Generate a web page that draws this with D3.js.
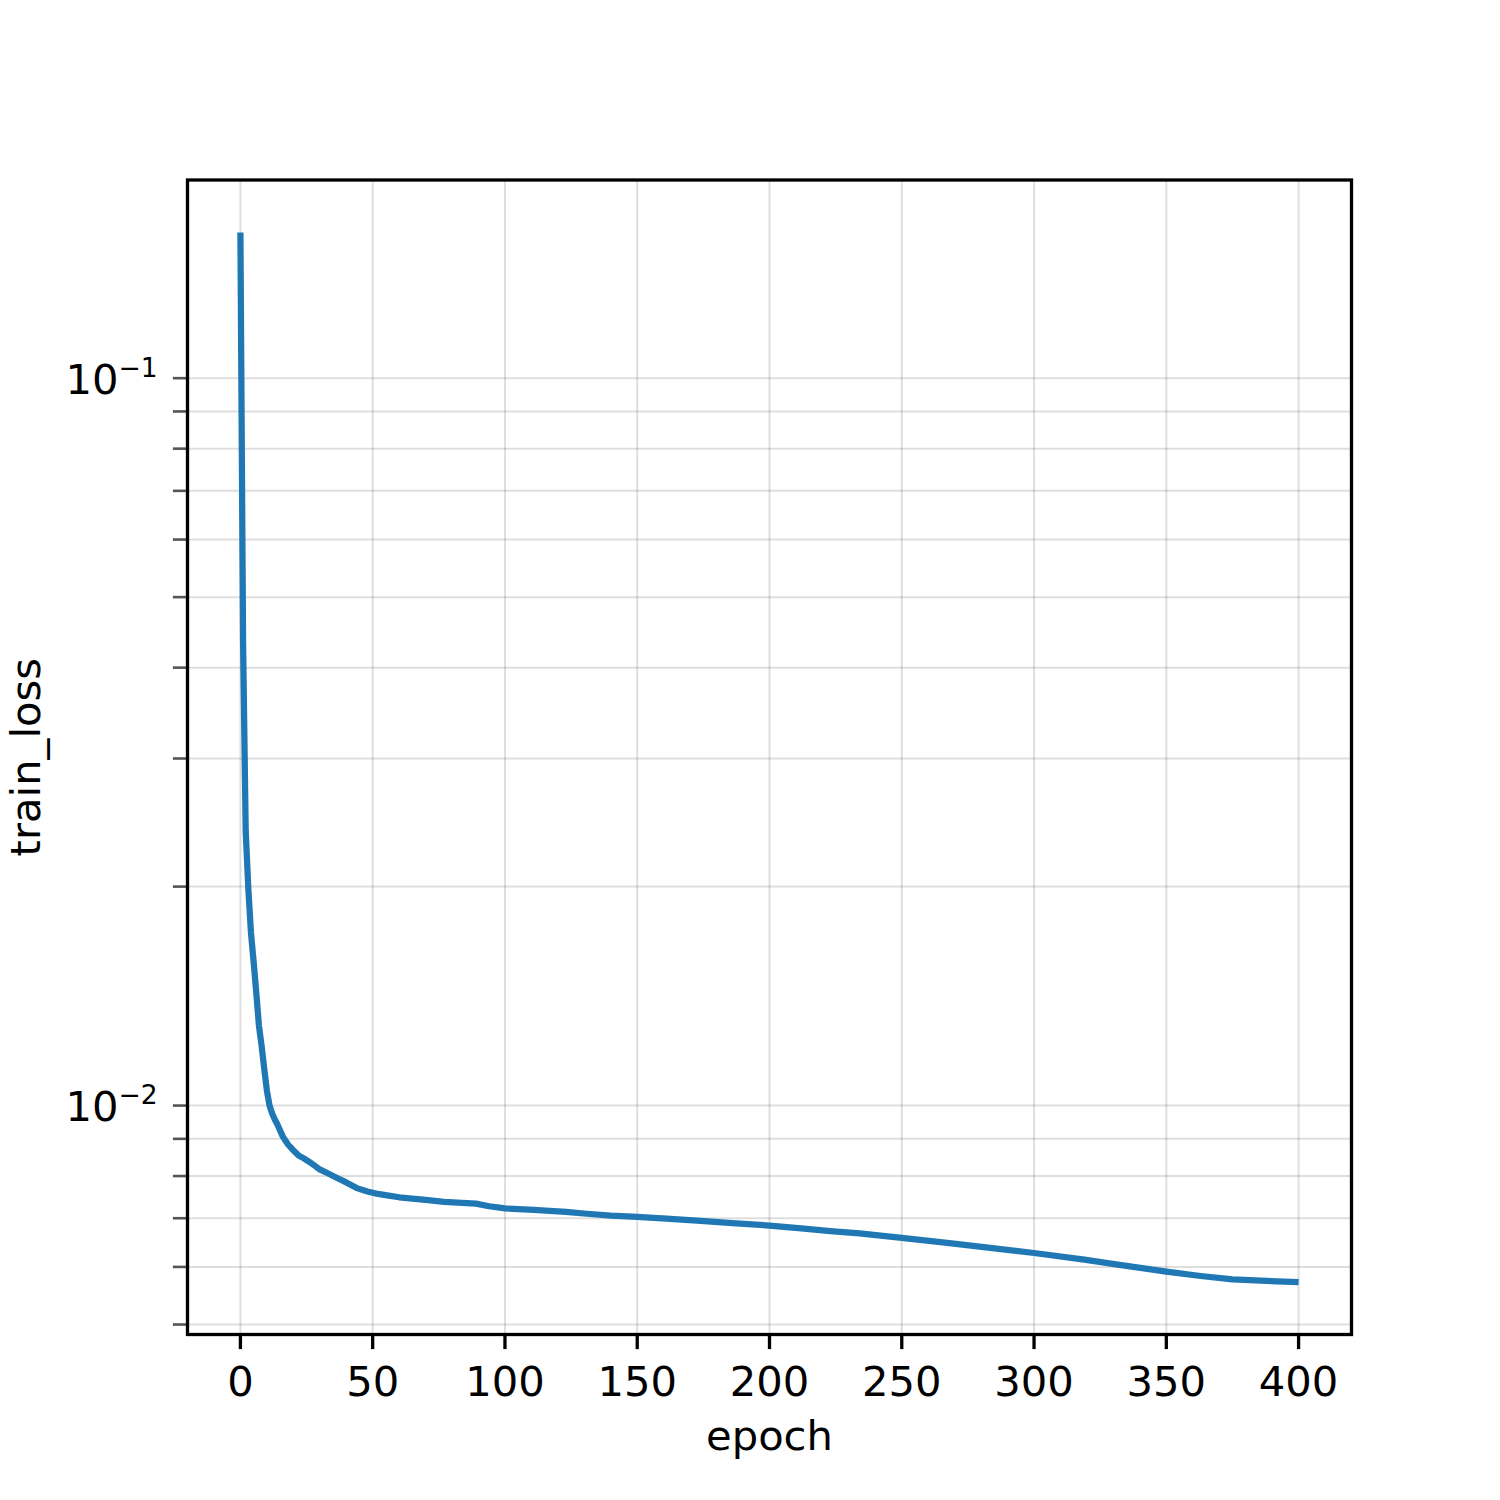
<!DOCTYPE html>
<html>
<head>
<meta charset="utf-8">
<script src="https://cdn.jsdelivr.net/npm/d3@7"></script>
<style>
  html, body { margin: 0; padding: 0; background: #fff; }
  svg { display: block; }
  text { font-family: "DejaVu Sans", sans-serif; fill: #000; }
</style>
</head>
<body>
<svg id="chart" width="1500" height="1500"></svg>
<script>
// ---- data ----
const epochs = [0, 1, 2, 3, 4, 5, 6, 7, 8, 9, 10, 11, 12, 13, 14, 15, 16, 17, 18, 19, 20,
  22, 24, 26, 28, 30, 33, 36, 40, 44, 48, 52, 56, 60, 70, 77, 89, 94, 100, 111, 123, 131,
  140, 150, 161, 174, 186, 200, 212, 223, 234, 250, 268, 281, 300, 319, 331, 350, 363,
  375, 388, 400];
const trainLoss = [0.1586, 0.0435, 0.02383, 0.01985, 0.01727, 0.01576, 0.01429, 0.01288,
  0.01209, 0.01124, 0.01049, 0.0100, 0.00975, 0.00957, 0.00942, 0.00924, 0.00907, 0.00895,
  0.00884, 0.00876, 0.00868, 0.00854, 0.00846, 0.00837, 0.00827, 0.00817, 0.00807, 0.00797,
  0.00784, 0.00770, 0.00762, 0.00756, 0.00752, 0.00748, 0.00742, 0.00737, 0.00733, 0.00727,
  0.00722, 0.00719, 0.00714, 0.00710, 0.00706, 0.00703, 0.00699, 0.00694, 0.00689, 0.00684,
  0.00678, 0.00672, 0.00667, 0.00658, 0.00647, 0.00639, 0.00627, 0.00614, 0.00605, 0.00591,
  0.00583, 0.00577, 0.00574, 0.00572];
const xTicks = [0, 50, 100, 150, 200, 250, 300, 350, 400];
const yMajorTicks = [0.01, 0.1];
const yMajorExp = ["\u22122", "\u22121"];
const yMinorTicks = [0.005, 0.006, 0.007, 0.008, 0.009, 0.02, 0.03, 0.04, 0.05, 0.06, 0.07, 0.08, 0.09];
const xLabel = "epoch";
const yLabel = "train_loss";

// ---- layout ----
const L = 187.5, R = 1351.5, T = 180, B = 1334.5;
const FS = 41.67;
const svg = d3.select("#chart");

// x domain with 5% margins (matplotlib style)
const xMin = d3.min(epochs), xMax = d3.max(epochs);
const xPad = (xMax - xMin) * 0.05;
const x = d3.scaleLinear().domain([xMin - xPad, xMax + xPad]).range([L, R]);

// y log domain with 5% margins in log space
const lmin = Math.log10(d3.min(trainLoss)), lmax = Math.log10(d3.max(trainLoss));
const lpad = (lmax - lmin) * 0.05;
const y = d3.scaleLog().domain([Math.pow(10, lmin - lpad), Math.pow(10, lmax + lpad)]).range([B, T]);
const [yd0, yd1] = y.domain();
const inY = v => v >= yd0 && v <= yd1;

// ---- grid ----
const grid = svg.append("g").attr("stroke", "#000").attr("stroke-opacity", 0.13).attr("stroke-width", 2);
grid.selectAll("line.v").data(xTicks).join("line")
  .attr("x1", d => x(d)).attr("x2", d => x(d)).attr("y1", T).attr("y2", B);
grid.selectAll("line.h").data(yMajorTicks.concat(yMinorTicks).filter(inY)).join("line")
  .attr("x1", L).attr("x2", R).attr("y1", d => y(d)).attr("y2", d => y(d));

// ---- line ----
const line = d3.line().x((d, i) => x(epochs[i])).y(d => y(d)).curve(d3.curveLinear);
svg.append("path").datum(trainLoss)
  .attr("d", line)
  .attr("fill", "none")
  .attr("stroke", "#1f77b4")
  .attr("stroke-width", 6.25)
  .attr("stroke-linejoin", "round")
  .attr("stroke-linecap", "butt");

// ---- x axis ticks & labels ----
const xt = svg.append("g");
xt.selectAll("line").data(xTicks).join("line")
  .attr("x1", d => x(d)).attr("x2", d => x(d))
  .attr("y1", B).attr("y2", B + 14.6)
  .attr("stroke", "#000").attr("stroke-width", 3.3);
xt.selectAll("text").data(xTicks).join("text")
  .attr("x", d => x(d)).attr("y", B + 61.5)
  .attr("text-anchor", "middle").attr("font-size", FS)
  .text(d => d);

// ---- y axis ticks & labels ----
const yt = svg.append("g");
yt.selectAll("line.maj").data(yMajorTicks.filter(inY)).join("line")
  .attr("x1", L - 14.6).attr("x2", L)
  .attr("y1", d => y(d)).attr("y2", d => y(d))
  .attr("stroke", "#555").attr("stroke-width", 2.6);
yt.selectAll("line.min").data(yMinorTicks.filter(inY)).join("line")
  .attr("x1", L - 14.6).attr("x2", L)
  .attr("y1", d => y(d)).attr("y2", d => y(d))
  .attr("stroke", "#555").attr("stroke-width", 2.6);
const ylab = yt.selectAll("text").data(yMajorTicks.map((v, i) => ({v, e: yMajorExp[i]})).filter(d => inY(d.v))).join("text")
  .attr("x", L - 30).attr("y", d => y(d.v) + 15.6)
  .attr("text-anchor", "end").attr("font-size", FS);
ylab.append("tspan").text("10");
ylab.append("tspan").attr("dx", 0).attr("dy", -16.7).attr("font-size", 26.5).text(d => d.e);

// ---- axis labels ----
svg.append("text").attr("x", (L + R) / 2).attr("y", 1449.5)
  .attr("text-anchor", "middle").attr("font-size", FS).text(xLabel);
svg.append("text").attr("transform", `translate(39.5,${(T + B) / 2}) rotate(-90)`)
  .attr("text-anchor", "middle").attr("font-size", FS).text(yLabel);

// ---- frame ----
svg.append("rect").attr("x", L).attr("y", T).attr("width", R - L).attr("height", B - T)
  .attr("fill", "none").attr("stroke", "#000").attr("stroke-width", 3.3);
</script>
</body>
</html>
